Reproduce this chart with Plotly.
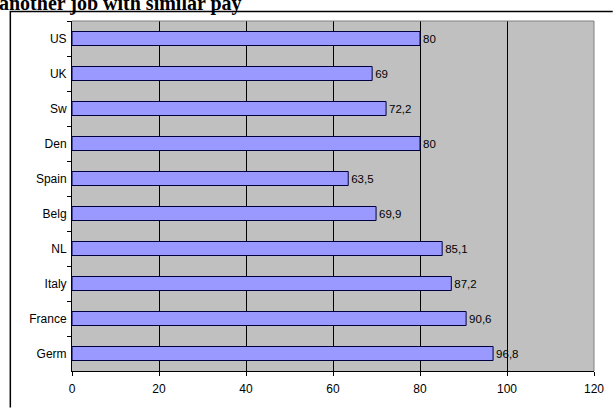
import plotly.graph_objects as go

# Share (%) by country, listed top to bottom
countries = ["US", "UK", "Sw", "Den", "Spain", "Belg", "NL", "Italy", "France", "Germ"]
values = [80, 69, 72.2, 80, 63.5, 69.9, 85.1, 87.2, 90.6, 96.8]
x_ticks = [0, 20, 40, 60, 80, 100, 120]

labels = [f"{v:g}".replace(".", ",") for v in values]

W, H = 616, 408
L, R, T, B = 72, 15, 21, 33
pw, ph = W - L - R, H - T - B


def px(x):
    return (x - L) / pw


def py(y):
    return (H - B - y) / ph


fig = go.Figure(
    go.Bar(
        x=values,
        y=countries,
        orientation="h",
        width=0.4,
        marker=dict(color="#9999FF", line=dict(color="#000040", width=1)),
        text=labels,
        textposition="outside",
        textfont=dict(family="Liberation Sans, Arial", size=11.5, color="black"),
        cliponaxis=False,
    )
)

fig.update_layout(
    width=W,
    height=H,
    margin=dict(l=L, r=R, t=T, b=B),
    paper_bgcolor="white",
    plot_bgcolor="#C0C0C0",
    showlegend=False,
    font=dict(family="Liberation Sans, Arial", size=12, color="black"),
    xaxis=dict(
        range=[0, 120],
        tickvals=x_ticks,
        ticktext=[str(t) for t in x_ticks],
        showgrid=True,
        gridcolor="black",
        gridwidth=1,
        zeroline=False,
        showline=True,
        linecolor="black",
        linewidth=1,
        ticks="outside",
        ticklen=4,
        tickcolor="black",
        ticklabelstandoff=3,
        fixedrange=True,
    ),
    yaxis=dict(
        categoryorder="array",
        categoryarray=countries,
        autorange="reversed",
        showgrid=False,
        zeroline=False,
        showline=True,
        linecolor="black",
        linewidth=1,
        ticks="outside",
        tickson="boundaries",
        ticklen=4,
        tickcolor="black",
        ticklabelstandoff=2,
        fixedrange=True,
    ),
    shapes=[
        # plot-area border, top and right
        dict(type="path", xref="paper", yref="paper",
             path="M 0 1 L 1 1 L 1 0",
             line=dict(color="#808080", width=1), layer="above"),
        # outer chart frame
        dict(type="path", xref="paper", yref="paper",
             path=f"M {px(9.5)} {py(412)} L {px(9.5)} {py(11.5)} L {px(620)} {py(11.5)}",
             line=dict(color="black", width=1.5), layer="above"),
    ],
    annotations=[
        dict(text="<b>another job with similar pay</b>",
             xref="paper", yref="paper",
             x=px(-4), y=py(3), xanchor="left", yanchor="middle",
             showarrow=False,
             font=dict(family="Liberation Serif, Times New Roman", size=20, color="black")),
    ],
)

fig.write_html("out.html")
